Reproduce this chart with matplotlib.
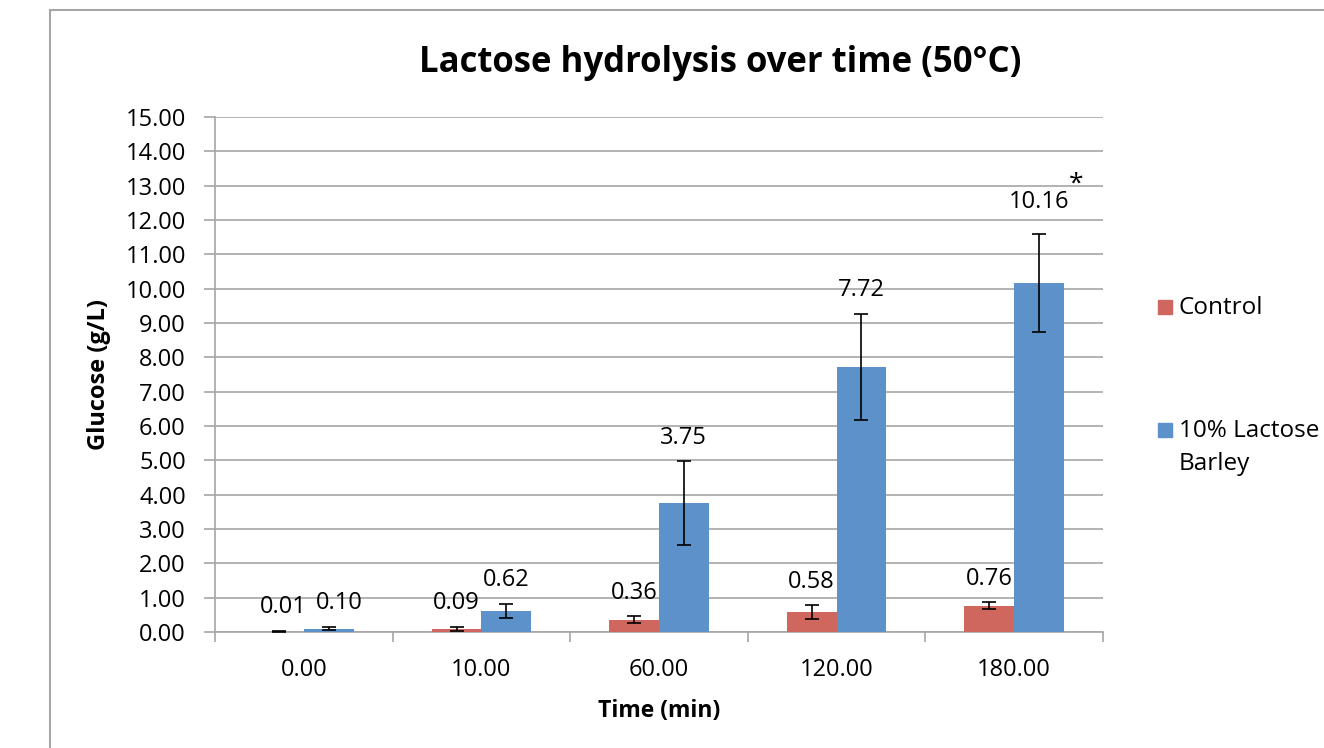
import matplotlib
matplotlib.use("Agg")
import matplotlib.pyplot as plt
from matplotlib.lines import Line2D
from matplotlib.patches import Rectangle
import numpy as np

plt.rcParams['font.family'] = ['Open Sans', 'DejaVu Sans']

times = ["0.00", "10.00", "60.00", "120.00", "180.00"]
control = [0.01, 0.09, 0.36, 0.58, 0.76]
control_err = [0.02, 0.06, 0.10, 0.20, 0.10]
barley = [0.10, 0.62, 3.75, 7.72, 10.16]
barley_err = [0.05, 0.20, 1.22, 1.54, 1.42]

red = '#CF675E'
blue = '#5D91CA'
grey = '#A6A6A6'

fig = plt.figure(figsize=(13.24, 7.48), dpi=100)
ax = fig.add_axes([215 / 1324, 1 - 632 / 748, 888 / 1324, 515 / 748])

x = np.arange(len(times))
w = 0.28
ax.bar(x - w / 2, control, w, color=red, yerr=control_err, capsize=5,
       error_kw=dict(elinewidth=1.2, capthick=1.2, ecolor='black'), zorder=3)
ax.bar(x + w / 2, barley, w, color=blue, yerr=barley_err, capsize=5,
       error_kw=dict(elinewidth=1.2, capthick=1.2, ecolor='black'), zorder=3)

for i, (xi, v, e) in enumerate(zip(x - w / 2, control, control_err)):
    dx = 3 if i == 0 else 0
    ax.annotate(f"{v:.2f}", (xi, v + e), xytext=(dx, 17), textcoords='offset points',
                ha='center', va='center', fontsize=17)
for i, (xi, v, e) in enumerate(zip(x + w / 2, barley, barley_err)):
    off = 23 if i == len(barley) - 1 else 17
    dx = 8 if i == 0 else 0
    ax.annotate(f"{v:.2f}", (xi, v + e), xytext=(dx, off), textcoords='offset points',
                ha='center', va='center', fontsize=17)

# significance mark over the last blue bar
ax.annotate("*", (x[-1] + w / 2, barley[-1] + barley_err[-1]), xytext=(27, 36),
            textcoords='offset points', ha='center', va='center', fontsize=19)

ax.set_xlim(-0.5, len(times) - 0.5)
ax.set_ylim(0, 15)
ax.set_yticks(np.arange(0, 16, 1))
ax.set_yticklabels([f"{t:.2f}" for t in range(16)], fontsize=17)
ax.set_xticks(x)
ax.set_xticklabels(times, fontsize=17)
ax.set_xticks(np.arange(-0.5, len(times), 1), minor=True)
ax.tick_params(axis='x', which='major', length=0, pad=19)
ax.tick_params(axis='x', which='minor', length=7, color=grey, width=1.2)
ax.tick_params(axis='y', length=8, color=grey, width=1.2, pad=13)
ax.grid(axis='y', color=grey, linewidth=1.2, zorder=0)

for s in ['top', 'right']:
    ax.spines[s].set_visible(False)
for s in ['left', 'bottom']:
    ax.spines[s].set_color(grey)
    ax.spines[s].set_linewidth(1.2)

ax.set_xlabel("Time (min)", fontsize=16.5, fontweight='bold', labelpad=12)
ax.set_ylabel("Glucose (g/L)", fontsize=17, fontweight='bold', labelpad=10)
fig.text(720 / 1324, 1 - 63 / 748, "Lactose hydrolysis over time (50°C)",
         ha='center', va='center', fontsize=25, fontweight='bold')

# legend
fig.add_artist(Rectangle((1158 / 1324, 1 - 314 / 748), 14 / 1324, 14 / 748,
                         transform=fig.transFigure, color=red))
fig.text(1179 / 1324, 1 - 308 / 748, "Control", fontsize=17.5, va='center')
fig.add_artist(Rectangle((1158 / 1324, 1 - 437 / 748), 14 / 1324, 14 / 748,
                         transform=fig.transFigure, color=blue))
fig.text(1179 / 1324, 1 - 431 / 748, "10% Lactose", fontsize=17.5, va='center')
fig.text(1179 / 1324, 1 - 464 / 748, "Barley", fontsize=17.5, va='center')

# outer chart frame
fig.add_artist(Line2D([50 / 1324, 50 / 1324], [0, 1 - 10 / 748],
                      transform=fig.transFigure, color=grey, linewidth=1.5))
fig.add_artist(Line2D([50 / 1324, 1], [1 - 10 / 748, 1 - 10 / 748],
                      transform=fig.transFigure, color=grey, linewidth=1.5))

fig.savefig("out.png", dpi=100)
